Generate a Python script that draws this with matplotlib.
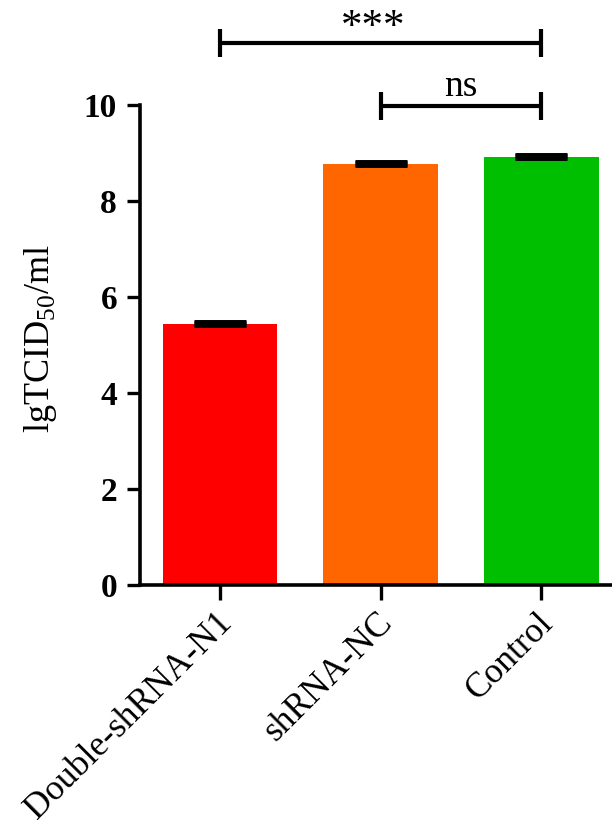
import matplotlib
matplotlib.use("Agg")
import matplotlib.pyplot as plt
import matplotlib.transforms as mtransforms

plt.rcParams['font.family'] = ['Liberation Serif', 'DejaVu Serif']
plt.rcParams['mathtext.fontset'] = 'custom'
plt.rcParams['mathtext.rm'] = 'Liberation Serif'

groups = ['Double-shRNA-N1', 'shRNA-NC', 'Control']
values = [5.44, 8.77, 8.92]
errors = [0.02, 0.02, 0.02]
colors = ['#FF0000', '#FF6600', '#00BF00']

# significance brackets: (left group, right group, label, bracket height)
brackets = [(0, 2, '***', 11.29), (1, 2, 'ns', 9.98)]

fig = plt.figure(figsize=(6.12, 8.32), dpi=100)
ax = fig.add_axes([140 / 612, 1 - 585 / 832, 472 / 612, 480 / 832])

x = list(range(len(groups)))
ax.bar(x, values, width=0.713, color=colors, zorder=1)
ax.errorbar(x, values, yerr=[[0] * len(errors), errors], fmt='none',
            ecolor='black', elinewidth=2.5, capsize=19, capthick=5, zorder=2)

ax.set_xlim(-0.498, 2.44)
ax.set_ylim(0, 10)
ax.set_yticks([0, 2, 4, 6, 8, 10])
ax.set_xticks(x)
ax.set_xticklabels(groups, rotation=45, ha='right', rotation_mode='anchor', fontsize=25.5)
for lab in ax.get_yticklabels():
    lab.set_fontweight('bold')
    lab.set_fontsize(24)

for side in ['top', 'right']:
    ax.spines[side].set_visible(False)
for side in ['left', 'bottom']:
    ax.spines[side].set_linewidth(2.6)
ax.tick_params(axis='y', length=9.5, width=2.4, pad=7)
ax.tick_params(axis='x', length=11, width=2.4, pad=3)

leg = 0.29
for i, j, label, h in brackets:
    ax.plot([x[i], x[j]], [h, h], color='black', lw=3, clip_on=False,
            solid_capstyle='butt')
    for k in (i, j):
        ax.plot([x[k], x[k]], [h - leg, h + leg], color='black', lw=3,
                clip_on=False, solid_capstyle='butt')
    if label == '***':
        ax.text((x[i] + x[j]) / 2 - 0.045, h + 0.1, label, ha='center',
                va='baseline', fontsize=31, clip_on=False)
    else:
        ax.text((x[i] + x[j]) / 2, h + 0.2, label, ha='center',
                va='baseline', fontsize=27, clip_on=False)

fig.text(41 / 612, 1 - 339 / 832, r'lgTCID$_{50}$/ml', rotation=90,
         ha='center', va='center', fontsize=26)

# nudge x tick labels slightly left to sit like the reference
offset = mtransforms.ScaledTranslation(-5 / 100, -2 / 100, fig.dpi_scale_trans)
for lab in ax.get_xticklabels():
    lab.set_transform(lab.get_transform() + offset)

fig.savefig('out.png', dpi=100)
